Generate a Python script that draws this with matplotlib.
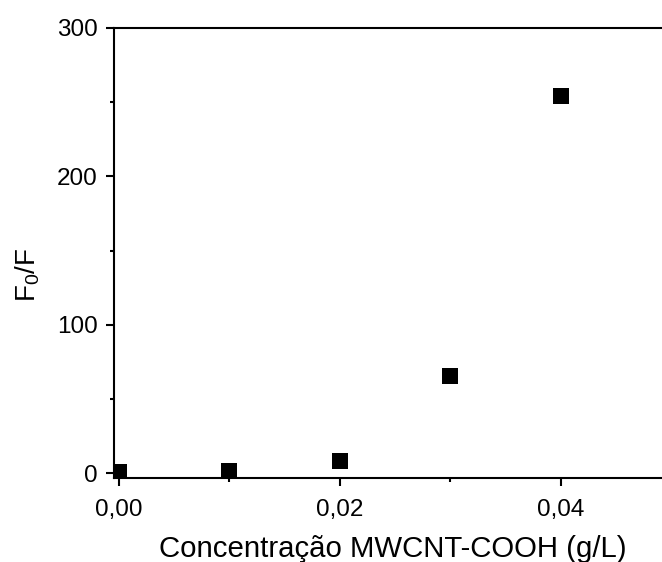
import matplotlib
matplotlib.use("Agg")
import matplotlib.pyplot as plt
from matplotlib.ticker import MultipleLocator, FuncFormatter

conc = [0.00, 0.01, 0.02, 0.03, 0.04]
f0f = [1.0, 1.7, 8.4, 65.7, 254.5]

plt.rcParams['font.family'] = ['Liberation Sans', 'DejaVu Sans']
plt.rcParams['mathtext.default'] = 'regular'

W, H = 662, 562
fig = plt.figure(figsize=(W/100, H/100), dpi=100)
left_px, top_px, bot_px = 114, 28, 478
right_px = 671.5
ax = fig.add_axes([left_px/W, 1 - bot_px/H, (right_px - left_px)/W, (bot_px - top_px)/H])

ax.plot(conc, f0f, 's', color='black', markersize=11.5, markeredgewidth=0)
ax.set_xlim(-0.00045, 0.05)
ax.set_ylim(-3.2, 300)

ax.xaxis.set_major_locator(MultipleLocator(0.02))
ax.xaxis.set_minor_locator(MultipleLocator(0.01))
ax.yaxis.set_major_locator(MultipleLocator(100))
ax.yaxis.set_minor_locator(MultipleLocator(50))
ax.xaxis.set_major_formatter(FuncFormatter(lambda v, p: f"{v:.2f}".replace('.', ',')))
ax.yaxis.set_major_formatter(FuncFormatter(lambda v, p: f"{v:.0f}"))

for s in ax.spines.values():
    s.set_linewidth(1.5)
ax.tick_params(which='major', direction='out', length=5.8, width=1.5, labelsize=17.5)
ax.tick_params(axis='y', which='major', pad=6)
ax.tick_params(axis='x', which='major', pad=9)
ax.tick_params(which='minor', direction='out', length=3, width=1.5)
ax.tick_params(top=False, right=False, which='both')

ax.set_xlabel('Concentração MWCNT-COOH (g/L)', fontsize=21.2)
ax.set_ylabel('F$_0$/F', fontsize=20)
ax.xaxis.set_label_coords((392.5 - left_px)/(right_px - left_px), -(557 - bot_px)/(bot_px - top_px))
ax.xaxis.label.set_va('baseline')
ax.yaxis.set_label_coords((27.5 - left_px)/(right_px - left_px), (bot_px - 275)/(bot_px - top_px))
ax.yaxis.label.set_va('center')

fig.savefig('out.png', dpi=100)
